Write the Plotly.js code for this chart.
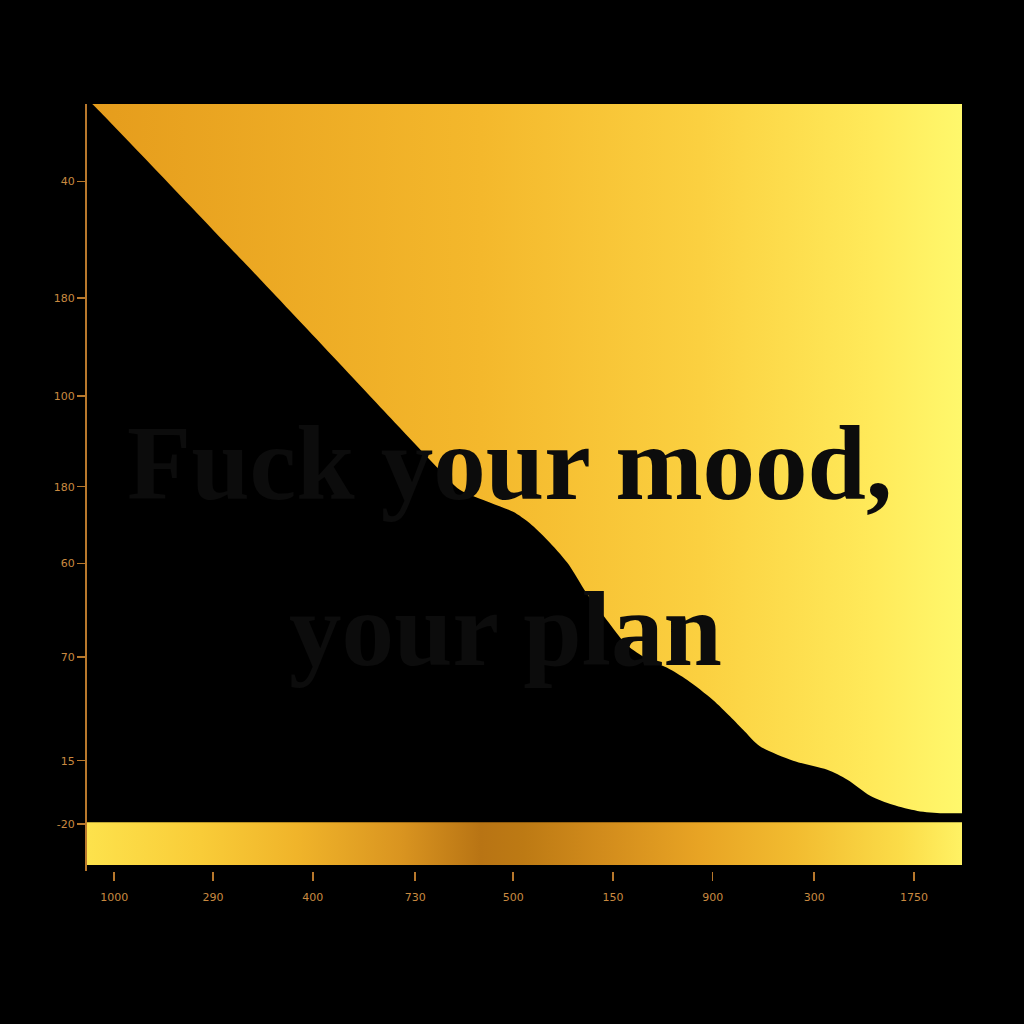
<html>
<head>
<script src="https://cdn.plot.ly/plotly-3.0.1.min.js"></script>
<style>
  body { margin: 0; background: #000; }
</style>
</head>
<body>
<div id="chart" style="width:1024px;height:1024px;"></div>
<script>
// black silhouette edge (x 0-100 across, y 0-100 up)
let edgeX = [0, 0.6, 18.6, 35.8, 40.3, 42.6, 46.1, 48.7, 50.6, 52.6, 54.9, 57.1, 59.4, 61.7, 64.0, 66.3, 68.6, 71.5, 73.5, 75.2, 76.9, 80.7, 84.6, 86.9, 89.5, 92.1, 94.9, 97.8, 100];
let edgeY = [100.6, 100, 78.4, 57.4, 51.9, 49.3, 47.6, 46.4, 44.9, 42.7, 39.7, 35.7, 32.2, 28.9, 27.1, 25.9, 24.3, 21.7, 19.5, 17.5, 15.6, 13.7, 12.5, 11.2, 9.1, 7.9, 7.1, 6.8, 6.8];

// bottom band
let bandX = [0, 100, 100, 0, 0];
let bandY = [0, 0, 5.6, 5.6, 0];

// background panel
let panelX = [0, 100, 100, 0, 0];
let panelY = [0, 0, 100, 100, 0];

// tick labels (as printed)
let xTickPos = [3.1, 14.4, 25.8, 37.5, 48.7, 60.1, 71.5, 83.1, 94.5];
let xTickText = ['1000', '290', '400', '730', '500', '150', '900', '300', '1750'];
let yTickPos = [89.8, 74.5, 61.6, 49.7, 39.6, 27.3, 13.7, 5.4];
let yTickText = ['40', '180', '100', '180', '60', '70', '15', '-20'];

let headline = ['Fuck your mood,', 'your plan'];
let headlineX = [48.3, 47.8];
let headlineY = [52.8, 31.0];

let axisColor = '#b8782c';
let tickFont = { family: 'DejaVu Sans', size: 11, color: '#c98a40' };

let data = [
  {
    x: panelX, y: panelY,
    mode: 'lines', line: { width: 0 },
    fill: 'toself',
    fillgradient: {
      type: 'horizontal',
      colorscale: [[0, '#e59c1c'], [0.45, '#f4b82c'], [0.7, '#fbd040'], [0.9, '#ffea5a'], [1, '#fff86c']]
    },
    hoverinfo: 'skip'
  },
  {
    x: edgeX, y: edgeY,
    mode: 'lines', line: { width: 0, shape: 'spline', smoothing: 0.8, color: '#000' },
    fill: 'tozeroy', fillcolor: '#000',
    hoverinfo: 'skip'
  },
  {
    x: bandX, y: bandY,
    mode: 'lines', line: { width: 0 },
    fill: 'toself',
    fillgradient: {
      type: 'horizontal',
      colorscale: [[0, '#fde24c'], [0.13, '#f9cc38'], [0.24, '#f0b42a'], [0.36, '#d99420'],
                   [0.45, '#b87414'], [0.5, '#bd7a14'], [0.59, '#d28c1c'], [0.7, '#e8a424'],
                   [0.81, '#f2bc30'], [0.93, '#fbdc48'], [1, '#fff264']]
    },
    hoverinfo: 'skip'
  }
];

let annotations = headline.map((t, i) => ({
  x: headlineX[i], y: headlineY[i], xref: 'x', yref: 'y',
  text: t, showarrow: false,
  xanchor: 'center', yanchor: 'middle',
  font: { family: 'Liberation Serif', size: 105, color: '#0c0c0c', weight: 'bold' }
}));

let layout = {
  width: 1024, height: 1024,
  paper_bgcolor: '#000', plot_bgcolor: '#000',
  margin: { l: 87, r: 62, t: 104, b: 153 },
  showlegend: false,
  xaxis: {
    range: [0, 100], showgrid: false, zeroline: false, showline: false,
    tickmode: 'array', tickvals: xTickPos, ticktext: xTickText,
    ticks: 'outside', ticklen: 9, tickwidth: 1.5, tickcolor: axisColor,
    ticklabelstandoff: 7,
    tickfont: tickFont
  },
  yaxis: {
    range: [-0.8, 100], showgrid: false, zeroline: false,
    showline: true, linecolor: axisColor, linewidth: 2,
    tickmode: 'array', tickvals: yTickPos, ticktext: yTickText,
    ticks: 'outside', ticklen: 8, tickwidth: 1.5, tickcolor: axisColor,
    tickfont: tickFont
  },
  annotations: annotations
};

Plotly.newPlot('chart', data, layout, { displayModeBar: false, staticPlot: true });
</script>
</body>
</html>
